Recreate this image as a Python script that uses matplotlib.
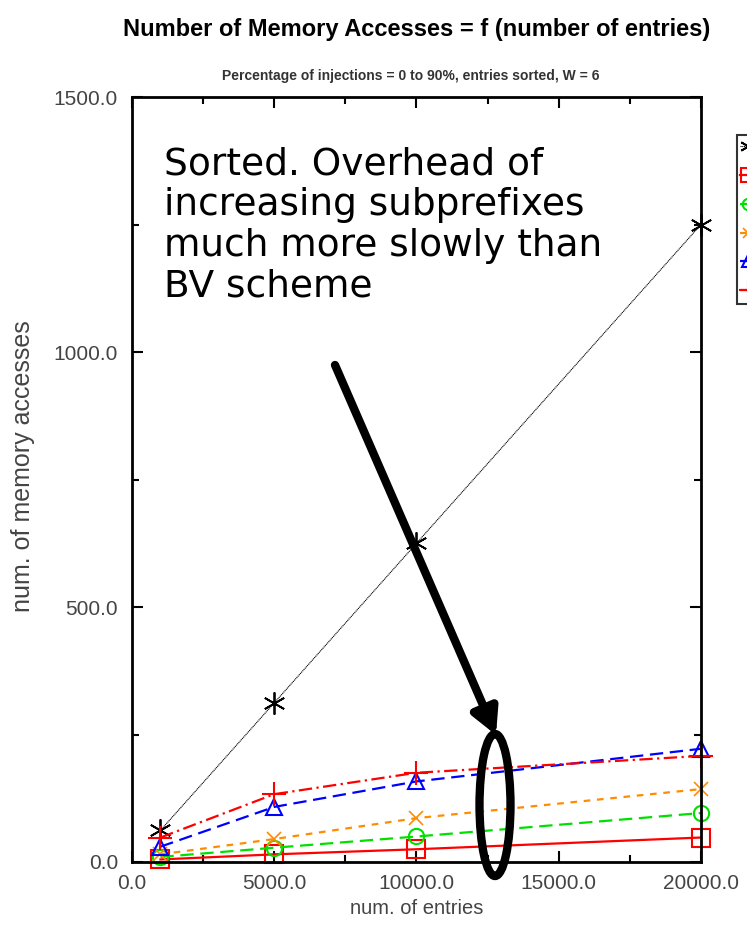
import matplotlib
matplotlib.use("Agg")
import matplotlib.pyplot as plt
from matplotlib.patches import Ellipse
from matplotlib.ticker import MultipleLocator, FormatStrFormatter

# data
entries = [1000, 5000, 10000, 20000]
series_black = [62, 312, 625, 1250]
series_red_sq = [5, 15, 25, 48]
series_green = [10, 28, 50, 96]
series_orange = [15, 45, 86, 143]
series_blue = [30, 108, 158, 222]
series_red_plus = [48, 133, 175, 208]

title = "Number of Memory Accesses = f (number of entries)"
subtitle = "Percentage of injections = 0 to 90%, entries sorted, W = 6"
note = "Sorted. Overhead of\nincreasing subprefixes\nmuch more slowly than\nBV scheme"

sans = ["Liberation Sans", "DejaVu Sans"]
grey = "#444444"

fig = plt.figure(figsize=(7.47, 9.33), dpi=100)
ax = fig.add_axes([0.1767, 0.0761, 0.7617, 0.8199])

asterisk = (6, 2, 0)
handles = []
handles += ax.plot(entries, series_black, color="black", lw=0.8, ls=(0, (1, 0.6)),
                   marker=asterisk, ms=16, mew=1.3)
handles += ax.plot(entries, series_red_sq, color="red", lw=1.6, ls="-",
                   marker="s", ms=13, mfc="none", mew=1.5)
handles += ax.plot(entries, series_green, color="#00e000", lw=1.6, ls=(0, (6, 3)),
                   marker="o", ms=11, mfc="none", mew=1.5)
handles += ax.plot(entries, series_orange, color="#ff8c00", lw=1.6, ls=(0, (3, 3)),
                   marker="x", ms=10, mew=1.2)
handles += ax.plot(entries, series_blue, color="blue", lw=1.6, ls=(0, (6, 3)),
                   marker="^", ms=11, mfc="none", mew=1.5)
handles += ax.plot(entries, series_red_plus, color="red", lw=1.6, ls=(0, (6, 2, 1, 2)),
                   marker="+", ms=17, mew=1.5)
for h in handles:
    h.set_clip_on(False)

ax.set_xlim(0, 20000)
ax.set_ylim(0, 1500)
ax.xaxis.set_major_locator(MultipleLocator(5000))
ax.xaxis.set_minor_locator(MultipleLocator(2500))
ax.yaxis.set_major_locator(MultipleLocator(500))
ax.yaxis.set_minor_locator(MultipleLocator(250))
ax.xaxis.set_major_formatter(FormatStrFormatter("%.1f"))
ax.yaxis.set_major_formatter(FormatStrFormatter("%.1f"))
ax.tick_params(which="both", direction="in", top=True, right=True,
               labelsize=15, labelcolor=grey, width=1.5)
ax.tick_params(which="major", length=8)
ax.tick_params(which="minor", length=5)
ax.tick_params(axis="y", pad=10)
ax.tick_params(axis="x", pad=9)
for lab in ax.get_xticklabels() + ax.get_yticklabels():
    lab.set_family(sans)
for sp in ax.spines.values():
    sp.set_linewidth(2)

ax.set_xlabel("num. of entries", fontsize=14.5, color=grey, family=sans, labelpad=4)
ax.set_ylabel("num. of memory accesses", fontsize=18, color=grey, family=sans)
ax.yaxis.set_label_coords(-0.17, 0.518)

fig.text(0.558, 0.968, title, ha="center", va="center", fontsize=17,
         fontweight="bold", family=sans)
fig.text(0.55, 0.919, subtitle, ha="center", va="center", fontsize=10,
         fontweight="bold", family=sans, color="#333333")

# legend box, cut off at the right edge as in the reference
leg = fig.legend(handles, [""] * len(handles), loc="upper left",
                 bbox_to_anchor=(0.987, 0.855), frameon=True, fancybox=False,
                 edgecolor="black", handlelength=0.8, handletextpad=0.3,
                 markerscale=0.75, labelspacing=0.5, borderpad=0.15,
                 borderaxespad=0, fontsize=14)
leg.get_frame().set_linewidth(1.5)

fig.text(0.219, 0.843, note, ha="left", va="top", fontsize=27,
         family="DejaVu Sans", linespacing=1.17)

ax.annotate("", xy=(496 / 747, 1 - 735 / 933), xycoords="figure fraction",
            xytext=(335 / 747, 1 - 365 / 933), textcoords="figure fraction",
            arrowprops=dict(arrowstyle="-|>,head_length=1.5,head_width=0.8",
                            color="black", lw=6, shrinkA=0, shrinkB=0),
            annotation_clip=False)

ell = Ellipse((495 / 747, 1 - 805 / 933), 31 / 747, 142 / 933,
              transform=fig.transFigure, fill=False, edgecolor="black", lw=6,
              clip_on=False)
fig.patches.append(ell)

fig.savefig("out.png", dpi=100)
